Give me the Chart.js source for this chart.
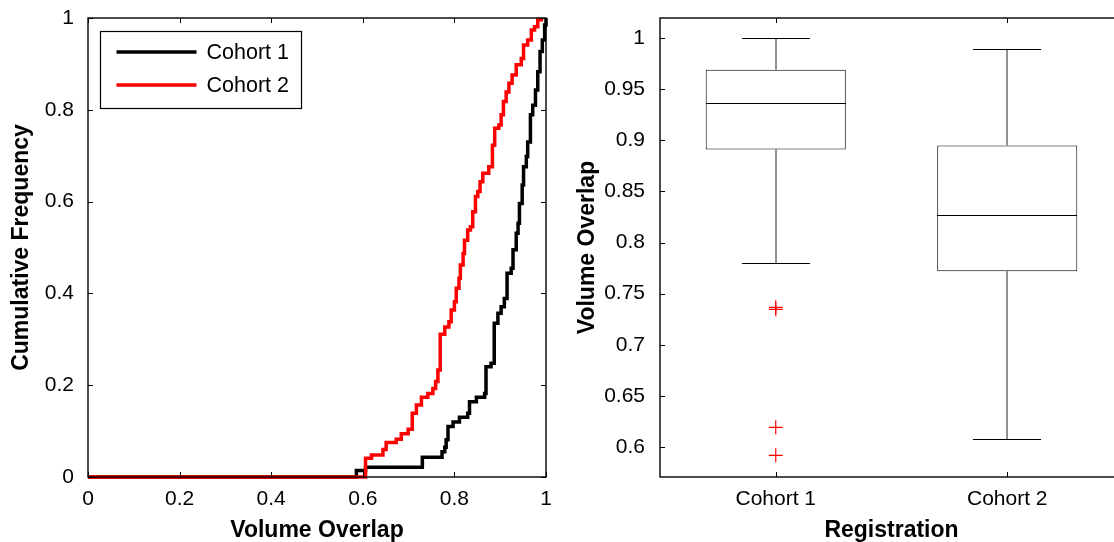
<!DOCTYPE html>
<html>
<head>
<meta charset="utf-8">
<script src="https://cdn.jsdelivr.net/npm/chart.js@4/dist/chart.umd.min.js"></script>
<style>
  html, body { margin: 0; padding: 0; background: #fff; overflow: hidden; }
  body { width: 1114px; height: 542px; position: relative; }
  canvas { position: absolute; top: 0; }
  #cdfChart { left: 0; }
  #boxChart { left: 560px; }
</style>
</head>
<body>
<canvas id="cdfChart" width="560" height="542"></canvas>
<canvas id="boxChart" width="580" height="542"></canvas>
<script>
// Volume overlap per cohort: stair-step CDF on the left, box plot on the right

Chart.defaults.font.family = '"Liberation Sans", Arial, sans-serif';
Chart.defaults.color = '#000';
Chart.defaults.animation = false;

const cohort1Overlap = [0, 0.586, 0.606, 0.730, 0.773, 0.779, 0.782, 0.786, 0.797, 0.811, 0.829, 0.833,
  0.848, 0.866, 0.869, 0.880, 0.887, 0.895, 0.902, 0.909, 0.915, 0.924, 0.928, 0.935, 0.939, 0.942,
  0.948, 0.951, 0.957, 0.960, 0.966, 0.971, 0.977, 0.982, 0.987, 0.992, 0.997, 1.000];
const cohort1Freq = [0, 0.014, 0.021, 0.043, 0.055, 0.065, 0.081, 0.110, 0.120, 0.130, 0.139, 0.164,
  0.174, 0.182, 0.240, 0.248, 0.335, 0.357, 0.371, 0.389, 0.444, 0.455, 0.495, 0.531, 0.553, 0.596,
  0.636, 0.676, 0.698, 0.730, 0.789, 0.810, 0.843, 0.883, 0.927, 0.952, 0.985, 1.000];

const cohort2Overlap = [0, 0.606, 0.619, 0.644, 0.651, 0.673, 0.684, 0.699, 0.708, 0.717, 0.728, 0.742,
  0.753, 0.759, 0.764, 0.769, 0.779, 0.788, 0.793, 0.800, 0.804, 0.810, 0.813, 0.819, 0.822, 0.829,
  0.835, 0.840, 0.846, 0.851, 0.856, 0.862, 0.875, 0.883, 0.888, 0.897, 0.902, 0.907, 0.913, 0.919,
  0.926, 0.935, 0.946, 0.951, 0.960, 0.968, 0.975, 0.982, 0.990];
const cohort2Freq = [0, 0.041, 0.048, 0.060, 0.075, 0.082, 0.094, 0.104, 0.139, 0.157, 0.174, 0.182,
  0.193, 0.208, 0.233, 0.311, 0.327, 0.338, 0.364, 0.382, 0.411, 0.433, 0.462, 0.487, 0.516, 0.538,
  0.545, 0.578, 0.611, 0.622, 0.643, 0.662, 0.676, 0.723, 0.760, 0.767, 0.789, 0.818, 0.839, 0.858,
  0.876, 0.898, 0.912, 0.941, 0.952, 0.974, 0.981, 0.996, 1.000];

const cdfTicks = [0, 0.2, 0.4, 0.6, 0.8, 1];

// Right panel, box summary per cohort
const boxLabels = ['Cohort 1', 'Cohort 2'];
const whiskerHigh = [1.000, 0.989];
const quartile3 = [0.969, 0.895];
const medians = [0.936, 0.827];
const quartile1 = [0.891, 0.772];
const whiskerLow = [0.780, 0.6075];
const cohort1Outliers = [0.7366, 0.7347, 0.6193, 0.5919];
const overlapTicks = [0.6, 0.65, 0.7, 0.75, 0.8, 0.85, 0.9, 0.95, 1];

const toPoints = (xs, ys) => xs.map((x, i) => ({ x: x, y: ys[i] }));
const fmt = v => String(+Number(v).toFixed(2));

// fixed axis band, and no extra room reserved for the end labels
const fixBand = (w, h) => s => {
  if (w !== null) s.width = w;
  if (h !== null) s.height = h;
  s.paddingTop = 0; s.paddingBottom = 0;
  s.paddingLeft = 0; s.paddingRight = 0;
};

// matlab style frame: full box with inward ticks on every side
const matlabFrame = {
  id: 'matlabFrame',
  afterDraw(chart) {
    const { ctx, chartArea: a, scales: { x, y } } = chart;
    const tl = 5;
    ctx.save();
    ctx.strokeStyle = '#000';
    ctx.lineWidth = 1;
    ctx.beginPath();
    x.ticks.forEach((t, i) => {
      const px = Math.round(x.getPixelForTick(i)) + 0.5;
      ctx.moveTo(px, a.bottom); ctx.lineTo(px, a.bottom - tl);
      ctx.moveTo(px, a.top); ctx.lineTo(px, a.top + tl);
    });
    y.ticks.forEach((t, i) => {
      const py = Math.round(y.getPixelForTick(i)) + 0.5;
      ctx.moveTo(a.left, py); ctx.lineTo(a.left + tl, py);
      ctx.moveTo(a.right, py); ctx.lineTo(a.right - tl, py);
    });
    ctx.stroke();
    ctx.lineWidth = 1.4;
    ctx.strokeRect(a.left, a.top, a.right - a.left, a.bottom - a.top);
    ctx.restore();
  }
};

// legend box in the upper left corner of the plot
const insideLegend = {
  id: 'insideLegend',
  afterDraw(chart) {
    const { ctx, chartArea: a } = chart;
    const bx = a.left + 12.5, by = a.top + 13.5;
    ctx.save();
    ctx.fillStyle = '#fff';
    ctx.fillRect(bx, by, 201, 77);
    ctx.strokeStyle = '#000';
    ctx.lineWidth = 1.2;
    ctx.strokeRect(bx, by, 201, 77);
    ctx.font = '21.5px "Liberation Sans", Arial, sans-serif';
    ctx.textBaseline = 'middle';
    chart.data.datasets.forEach((ds, i) => {
      const ly = by + 20.5 + i * 33;
      ctx.strokeStyle = ds.borderColor;
      ctx.lineWidth = 3.5;
      ctx.beginPath();
      ctx.moveTo(bx + 16, ly);
      ctx.lineTo(bx + 96, ly);
      ctx.stroke();
      ctx.fillStyle = '#000';
      ctx.fillText(ds.label, bx + 106, ly + 1.5);
    });
    ctx.restore();
  }
};

// whiskers, caps and medians on top of the floating-bar boxes
const boxWhiskers = {
  id: 'boxWhiskers',
  afterDatasetsDraw(chart) {
    const { ctx, scales: { x, y } } = chart;
    const unit = x.getPixelForValue(1) - x.getPixelForValue(0);
    ctx.save();
    boxLabels.forEach((label, i) => {
      const cx = Math.round(x.getPixelForValue(i));
      const half = unit * 0.3025;
      const cap = unit * 0.147;
      const yHi = Math.round(y.getPixelForValue(whiskerHigh[i])) + 0.5;
      const yLo = Math.round(y.getPixelForValue(whiskerLow[i])) + 0.5;
      const yQ3 = y.getPixelForValue(quartile3[i]);
      const yQ1 = y.getPixelForValue(quartile1[i]);
      const yMed = Math.round(y.getPixelForValue(medians[i])) + 0.5;
      ctx.strokeStyle = '#222';
      ctx.lineWidth = 1;
      ctx.beginPath();
      ctx.moveTo(cx, yHi); ctx.lineTo(cx, yQ3);
      ctx.moveTo(cx, yQ1); ctx.lineTo(cx, yLo);
      ctx.stroke();
      ctx.strokeStyle = '#000';
      ctx.beginPath();
      ctx.moveTo(cx - cap, yHi); ctx.lineTo(cx + cap, yHi);
      ctx.moveTo(cx - cap, yLo); ctx.lineTo(cx + cap, yLo);
      ctx.moveTo(cx - half, yMed); ctx.lineTo(cx + half, yMed);
      ctx.stroke();
    });
    ctx.restore();
  }
};

const tickFont = { size: 21 };
const titleFont = { size: 23, weight: 'bold', lineHeight: 1 };

new Chart(document.getElementById('cdfChart'), {
  type: 'line',
  data: {
    datasets: [
      { label: 'Cohort 1', data: toPoints(cohort1Overlap, cohort1Freq), borderColor: '#000', order: 1 },
      { label: 'Cohort 2', data: toPoints(cohort2Overlap, cohort2Freq), borderColor: '#ff0000', order: 0 }
    ]
  },
  options: {
    responsive: false,
    layout: { padding: { top: 18, right: 14, left: 0, bottom: 0 } },
    elements: {
      line: { borderWidth: 3.5, stepped: true, tension: 0, fill: false },
      point: { radius: 0 }
    },
    datasets: { line: { clip: 6 } },
    plugins: { legend: { display: false }, tooltip: { enabled: false } },
    scales: {
      x: {
        type: 'linear', min: 0, max: 1,
        afterBuildTicks: s => { s.ticks = cdfTicks.map(v => ({ value: v })); },
        afterFit: fixBand(null, 65),
        grid: { display: false, drawTicks: false },
        border: { display: false },
        ticks: { padding: 10, font: tickFont, maxRotation: 0, autoSkip: false, callback: fmt },
        title: { display: true, text: 'Volume Overlap', font: titleFont, padding: 0 }
      },
      y: {
        type: 'linear', min: 0, max: 1,
        afterBuildTicks: s => { s.ticks = cdfTicks.map(v => ({ value: v })); },
        afterFit: fixBand(88, null),
        grid: { display: false, drawTicks: false },
        border: { display: false },
        ticks: { padding: 14, font: tickFont, autoSkip: false, callback: fmt },
        title: { display: true, text: 'Cumulative Frequency', font: titleFont, padding: { top: 10, bottom: 0 } }
      }
    }
  },
  plugins: [matlabFrame, insideLegend]
});

new Chart(document.getElementById('boxChart'), {
  type: 'bar',
  data: {
    labels: boxLabels,
    datasets: [
      {
        type: 'bar', label: 'Interquartile range',
        data: quartile1.map((q, i) => [q, quartile3[i]]),
        backgroundColor: '#fff', borderColor: '#000', borderWidth: 1, borderSkipped: false,
        barPercentage: 0.605, categoryPercentage: 1
      },
      {
        type: 'scatter', label: 'Outliers',
        data: cohort1Outliers.map(v => ({ x: boxLabels[0], y: v })),
        pointStyle: 'cross', pointRadius: 7, borderColor: '#ff0000', borderWidth: 1.2
      }
    ]
  },
  options: {
    responsive: false,
    layout: { padding: { top: 18, right: 17, left: 0, bottom: 0 } },
    plugins: { legend: { display: false }, tooltip: { enabled: false } },
    scales: {
      x: {
        type: 'category', offset: true,
        afterFit: fixBand(null, 65),
        grid: { display: false, drawTicks: false },
        border: { display: false },
        ticks: { padding: 10, font: tickFont, maxRotation: 0 },
        title: { display: true, text: 'Registration', font: titleFont, padding: 0 }
      },
      y: {
        type: 'linear', min: 0.5707, max: 1.0196,
        afterBuildTicks: s => { s.ticks = overlapTicks.map(v => ({ value: v })); },
        afterFit: fixBand(100, null),
        grid: { display: false, drawTicks: false },
        border: { display: false },
        ticks: { padding: 15, font: tickFont, autoSkip: false, callback: fmt },
        title: { display: true, text: 'Volume Overlap', font: titleFont, padding: { top: 16.5, bottom: 0 } }
      }
    }
  },
  plugins: [matlabFrame, boxWhiskers]
});
</script>
</body>
</html>
